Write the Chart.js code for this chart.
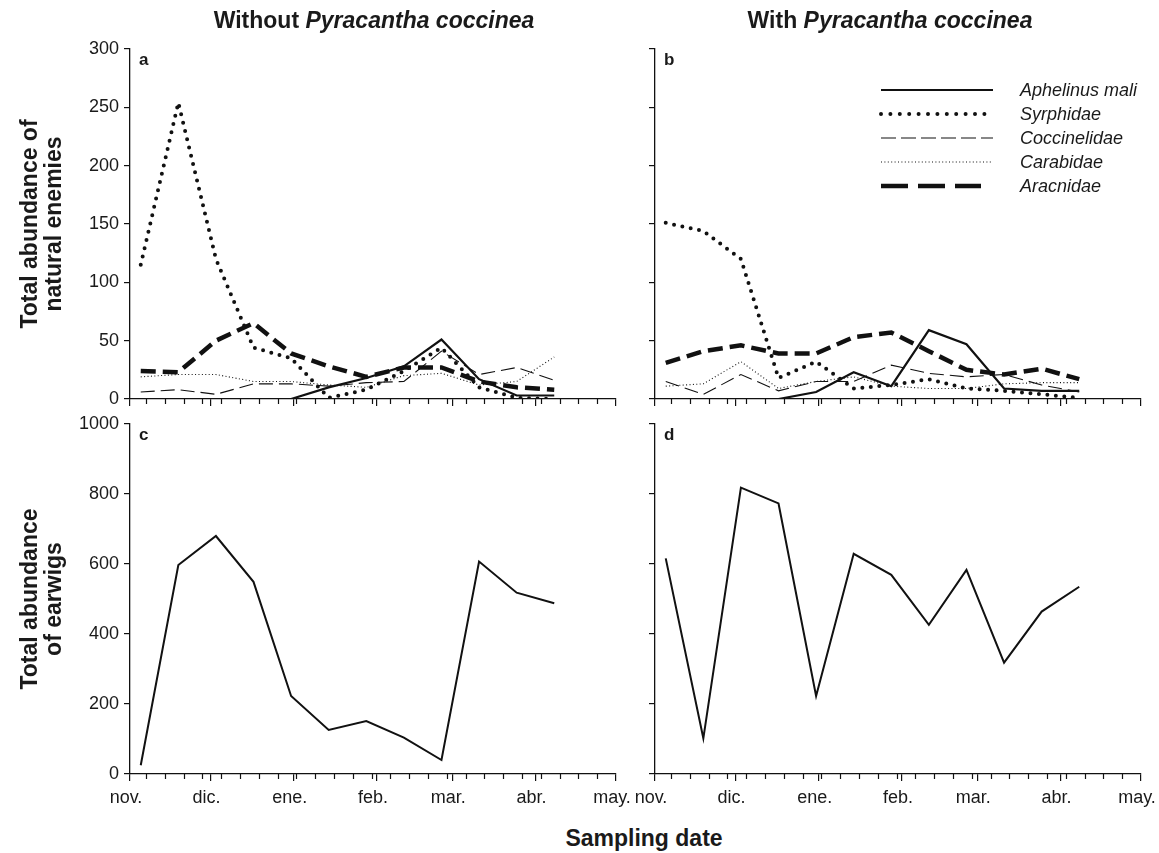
<!DOCTYPE html>
<html>
<head>
<meta charset="utf-8">
<script src="https://cdn.jsdelivr.net/npm/chart.js@4.4.0/dist/chart.umd.min.js"></script>
<style>
  body { margin: 0; background: #fff; width: 1159px; height: 853px; position: relative; overflow: hidden;
         font-family: "Liberation Sans", Arial, sans-serif; color: #1a1a1a; }
  canvas { position: absolute; }
  .lbl { position: absolute; font-weight: bold; font-size: 23px; line-height: 26px; white-space: nowrap; }
  .ytitle { position: absolute; font-weight: bold; font-size: 23px; line-height: 24px; text-align: center;
            white-space: nowrap; transform: translate(-50%, -50%) rotate(-90deg); }
</style>
</head>
<body>
<canvas id="chart-a" width="640" height="420" style="left:0;top:0"></canvas>
<canvas id="chart-b" width="599" height="420" style="left:560px;top:0"></canvas>
<canvas id="chart-c" width="640" height="420" style="left:0;top:400px"></canvas>
<canvas id="chart-d" width="599" height="420" style="left:560px;top:400px"></canvas>

<div class="lbl" style="left:374px;top:7px;transform:translateX(-50%)">Without <i>Pyracantha coccinea</i></div>
<div class="lbl" style="left:890px;top:7px;transform:translateX(-50%)">With <i>Pyracantha coccinea</i></div>
<div class="ytitle" style="left:41px;top:224px">Total abundance of<br>natural enemies</div>
<div class="ytitle" style="left:41px;top:599px">Total abundance<br>of earwigs</div>
<div class="lbl" style="left:644px;top:825px;transform:translateX(-50%)">Sampling date</div>

<script>
// ── Data ─────────────────────────────────────────────────────────────────────

// days counted from 1 November
const sampleDays = [4, 18, 32, 46, 60, 74, 88, 102, 116, 130, 144, 158];
const monthDays = [0, 30, 61, 92, 120, 151, 181];
const monthLabels = ['nov.', 'dic.', 'ene.', 'feb.', 'mar.', 'abr.', 'may.'];
const weekDays = [6, 13, 20, 27, 34, 41, 48, 55, 62, 69, 76, 83, 90, 97, 104, 111, 118, 125, 132, 139, 146, 153, 160, 167, 174];
const enemyTicks = [0, 50, 100, 150, 200, 250, 300];
const earwigTicks = [0, 200, 400, 600, 800, 1000];

// a: without Pyracantha coccinea
const aphelinusWithout = [0, 0, 0, 0, 0, 10, 18, 28, 51, 17, 3, 3];
const syrphidaeWithout = [115, 254, 120, 44, 35, 1, 8, 24, 44, 10, 1, 0];
const coccinelidaeWithout = [6, 8, 4, 13, 13, 11, 14, 15, 41, 21, 27, 16];
const carabidaeWithout = [19, 21, 21, 15, 15, 12, 10, 20, 22, 12, 15, 36];
const aracnidaeWithout = [24, 23, 50, 65, 39, 28, 19, 27, 27, 15, 10, 8];

// b: with Pyracantha coccinea
const aphelinusWith = [0, 0, 0, 0, 6, 23, 11, 59, 47, 9, 7, 7];
const syrphidaeWith = [151, 144, 120, 18, 32, 9, 12, 17, 9, 7, 4, 1];
const coccinelidaeWith = [15, 4, 21, 7, 15, 15, 29, 22, 19, 21, 12, 6];
const carabidaeWith = [11, 13, 32, 9, 15, 19, 11, 9, 9, 13, 14, 14];
const aracnidaeWith = [31, 41, 46, 39, 39, 53, 57, 41, 25, 21, 26, 17];

// c, d: earwigs
const earwigsWithout = [25, 597, 680, 549, 223, 126, 151, 104, 40, 607, 518, 488];
const earwigsWith = [616, 102, 818, 773, 223, 629, 569, 426, 583, 318, 464, 535];

// ── Styles ───────────────────────────────────────────────────────────────────

const INK = '#111';
const TEXT = '#1a1a1a';
const FONT = '"Liberation Sans", Arial, sans-serif';

const SERIES = [
  { name: 'Aphelinus mali', width: 2.2, dash: [], cap: 'butt', legendDash: [] },
  { name: 'Syrphidae', width: 4, dash: [0, 8.5], cap: 'round', legendDash: [0, 9.4] },
  { name: 'Coccinelidae', width: 1.1, dash: [14, 6], cap: 'butt', legendDash: [15, 5] },
  { name: 'Carabidae', width: 1.1, dash: [1, 2.4], cap: 'butt', legendDash: [1, 2.4] },
  { name: 'Aracnidae', width: 4.5, dash: [15, 7], cap: 'butt', legendDash: [27, 10] },
];

function pts(vals) { return sampleDays.map((d, i) => ({ x: d, y: vals[i] })); }

function enemySets(groups) {
  return groups.map((vals, i) => ({
    label: SERIES[i].name,
    data: pts(vals),
    borderColor: INK,
    borderWidth: SERIES[i].width,
    borderDash: SERIES[i].dash,
    borderCapStyle: SERIES[i].cap,
    fill: false,
  }));
}

// ── Plugins ──────────────────────────────────────────────────────────────────

const minorTicks = {
  id: 'minorTicks',
  afterDraw(chart) {
    const { ctx, scales: { x } } = chart;
    ctx.save();
    ctx.strokeStyle = INK;
    ctx.lineWidth = 1.2;
    ctx.beginPath();
    weekDays.forEach(d => {
      const px = Math.round(x.getPixelForValue(d)) + 0.5;
      ctx.moveTo(px, x.top);
      ctx.lineTo(px, x.top + 5);
    });
    ctx.stroke();
    ctx.restore();
  },
};

function panelLetter(letter) {
  return {
    id: 'letter',
    afterDraw(chart) {
      const { ctx, chartArea } = chart;
      ctx.save();
      ctx.fillStyle = TEXT;
      ctx.font = 'bold 17px ' + FONT;
      ctx.fillText(letter, chartArea.left + 9, chartArea.top + 16);
      ctx.restore();
    },
  };
}

const seriesLegend = {
  id: 'seriesLegend',
  afterDraw(chart) {
    const { ctx, chartArea } = chart;
    const x1 = chartArea.left + 226, x2 = chartArea.left + 338, tx = chartArea.left + 365;
    ctx.save();
    ctx.font = 'italic 18px ' + FONT;
    ctx.textBaseline = 'middle';
    SERIES.forEach((s, i) => {
      const y = 90 + i * 24;
      ctx.strokeStyle = INK;
      ctx.lineWidth = s.width;
      ctx.lineCap = s.cap;
      ctx.setLineDash(s.legendDash);
      ctx.beginPath();
      ctx.moveTo(x1, y);
      ctx.lineTo(i === 4 ? x2 - 12 : x2, y);
      ctx.stroke();
      ctx.setLineDash([]);
      ctx.fillStyle = TEXT;
      ctx.fillText(s.name, tx, y + 1);
    });
    ctx.restore();
  },
};

// ── Panels ───────────────────────────────────────────────────────────────────

function makePanel(id, datasets, o) {
  const axisGrid = { drawOnChartArea: false, color: INK, lineWidth: 1.2 };
  const tickFont = { family: FONT, size: 18 };
  return new Chart(document.getElementById(id), {
    type: 'line',
    data: { datasets },
    options: {
      responsive: false,
      animation: false,
      events: [],
      layout: { padding: { top: o.top, right: o.right, left: 0, bottom: 0 } },
      plugins: { legend: { display: false }, tooltip: { enabled: false } },
      elements: { point: { radius: 0 }, line: { tension: 0 } },
      scales: {
        x: {
          type: 'linear', min: 0, max: 181,
          afterBuildTicks: s => { s.ticks = monthDays.map(v => ({ value: v })); },
          afterFit: s => { s.height = o.xh; s.paddingLeft = 0; s.paddingRight = 0; },
          grid: { ...axisGrid, tickLength: 7 },
          border: { color: INK, width: 1.3 },
          ticks: {
            display: o.xLabels, autoSkip: false, maxRotation: 0, padding: 6, labelOffset: -4,
            font: tickFont, color: TEXT, callback: (v, i) => monthLabels[i],
          },
        },
        y: {
          min: 0, max: o.yTicks[o.yTicks.length - 1],
          afterBuildTicks: s => { s.ticks = o.yTicks.map(v => ({ value: v })); },
          afterFit: s => { s.width = o.yw; },
          grid: { ...axisGrid, tickLength: 6 },
          border: { color: INK, width: 1.3 },
          ticks: { display: o.yLabels, padding: 5, font: tickFont, color: TEXT, callback: v => String(v) },
        },
      },
    },
    plugins: [minorTicks, panelLetter(o.letter)].concat(o.extra || []),
  });
}

const earwigLine = vals => [{ data: pts(vals), borderColor: INK, borderWidth: 2, fill: false }];

makePanel('chart-a',
  enemySets([aphelinusWithout, syrphidaeWithout, coccinelidaeWithout, carabidaeWithout, aracnidaeWithout]),
  { letter: 'a', top: 49, right: 24, yw: 130, xh: 21, xLabels: false, yLabels: true, yTicks: enemyTicks });

makePanel('chart-b',
  enemySets([aphelinusWith, syrphidaeWith, coccinelidaeWith, carabidaeWith, aracnidaeWith]),
  { letter: 'b', top: 49, right: 18, yw: 95, xh: 21, xLabels: false, yLabels: false, yTicks: enemyTicks, extra: [seriesLegend] });

makePanel('chart-c', earwigLine(earwigsWithout),
  { letter: 'c', top: 24, right: 24, yw: 130, xh: 46, xLabels: true, yLabels: true, yTicks: earwigTicks });

makePanel('chart-d', earwigLine(earwigsWith),
  { letter: 'd', top: 24, right: 18, yw: 95, xh: 46, xLabels: true, yLabels: false, yTicks: earwigTicks });
</script>
</body>
</html>
